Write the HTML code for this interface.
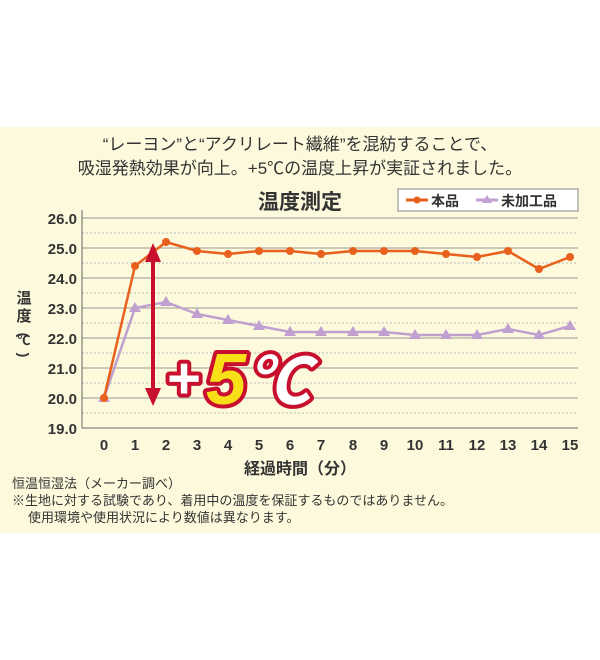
<!DOCTYPE html>
<html><head><meta charset="utf-8"><style>
body{margin:0;width:600px;height:660px;background:#fff;overflow:hidden}
svg{display:block}
text{font-family:"Liberation Sans","Noto Sans CJK JP",sans-serif}
</style></head><body>
<svg width="600" height="660" viewBox="0 0 600 660">
<rect x="0" y="127" width="600" height="406" fill="#fdf9dc"/>
<text x="300" y="150" font-size="17" text-anchor="middle" fill="#333">“レーヨン”と“アクリレート繊維”を混紡することで、</text>
<text x="300" y="174" font-size="17" text-anchor="middle" fill="#333">吸湿発熱効果が向上。+5℃の温度上昇が実証されました。</text>
<text x="300" y="209" font-size="21" font-weight="bold" text-anchor="middle" fill="#333">温度測定</text>
<rect x="398" y="189" width="180" height="22" fill="#fff" stroke="#888"/>
<line x1="406" y1="200" x2="428" y2="200" stroke="#e8601c" stroke-width="3"/><circle cx="417" cy="200" r="3.5" fill="#e8601c"/>
<text x="431" y="206" font-size="14" font-weight="bold" fill="#333">本品</text>
<line x1="476" y1="200" x2="498" y2="200" stroke="#c0a0d0" stroke-width="3"/><polygon points="487,195 492,203 482,203" fill="#c0a0d0"/>
<text x="501" y="206" font-size="14" font-weight="bold" fill="#333">未加工品</text>
<g stroke="#999" stroke-width="1">
<line x1="82" y1="218" x2="578" y2="218"/><line x1="82" y1="248" x2="578" y2="248"/><line x1="82" y1="278" x2="578" y2="278"/><line x1="82" y1="308" x2="578" y2="308"/><line x1="82" y1="338" x2="578" y2="338"/><line x1="82" y1="368" x2="578" y2="368"/><line x1="82" y1="398" x2="578" y2="398"/>
</g>
<g stroke="#bbb" stroke-width="1" stroke-dasharray="2,2">
<line x1="82" y1="233" x2="578" y2="233"/><line x1="82" y1="263" x2="578" y2="263"/><line x1="82" y1="293" x2="578" y2="293"/><line x1="82" y1="323" x2="578" y2="323"/><line x1="82" y1="353" x2="578" y2="353"/><line x1="82" y1="383" x2="578" y2="383"/><line x1="82" y1="413" x2="578" y2="413"/>
</g>
<line x1="82" y1="210" x2="82" y2="428" stroke="#666"/><line x1="82" y1="428" x2="578" y2="428" stroke="#666"/>
<g font-size="15" font-weight="bold" fill="#333" text-anchor="end">
<text x="77" y="224">26.0</text><text x="77" y="254">25.0</text><text x="77" y="284">24.0</text><text x="77" y="314">23.0</text><text x="77" y="344">22.0</text><text x="77" y="374">21.0</text><text x="77" y="404">20.0</text><text x="77" y="434">19.0</text>
</g>
<g font-size="15" font-weight="bold" fill="#333" text-anchor="middle">
<text x="104" y="450">0</text><text x="135" y="450">1</text><text x="166" y="450">2</text><text x="197" y="450">3</text><text x="228" y="450">4</text><text x="259" y="450">5</text><text x="290" y="450">6</text><text x="321" y="450">7</text><text x="353" y="450">8</text><text x="384" y="450">9</text><text x="415" y="450">10</text><text x="446" y="450">11</text><text x="477" y="450">12</text><text x="508" y="450">13</text><text x="539" y="450">14</text><text x="570" y="450">15</text>
</g>
<text x="300" y="474" font-size="16" font-weight="bold" text-anchor="middle" fill="#333">経過時間（分）</text>
<g font-size="15" font-weight="bold" fill="#333" text-anchor="middle">
<text x="24" y="303">温</text><text x="24" y="321">度</text>
<text x="24" y="340" font-size="14" transform="rotate(90 24 335)">(</text>
<text x="24" y="345" font-size="13">℃</text>
<text x="24" y="360" font-size="14" transform="rotate(90 24 355)">)</text>
</g>
<polyline fill="none" stroke="#c0a0d0" stroke-width="2.5" points="104,398 135,308 166,302 197,314 228,320 259,326 290,332 321,332 353,332 384,332 415,335 446,335 477,335 508,329 539,335 570,326"/>
<g fill="#c0a0d0">
<polygon points="104,392 110,402 98,402"/><polygon points="135,302 141,312 129,312"/><polygon points="166,296 172,306 160,306"/><polygon points="197,308 203,318 191,318"/><polygon points="228,314 234,324 222,324"/><polygon points="259,320 265,330 253,330"/><polygon points="290,326 296,336 284,336"/><polygon points="321,326 327,336 315,336"/><polygon points="353,326 359,336 347,336"/><polygon points="384,326 390,336 378,336"/><polygon points="415,329 421,339 409,339"/><polygon points="446,329 452,339 440,339"/><polygon points="477,329 483,339 471,339"/><polygon points="508,323 514,333 502,333"/><polygon points="539,329 545,339 533,339"/><polygon points="570,320 576,330 564,330"/>
</g>
<polyline fill="none" stroke="#e8601c" stroke-width="2.5" points="104,398 135,266 166,242 197,251 228,254 259,251 290,251 321,254 353,251 384,251 415,251 446,254 477,257 508,251 539,269 570,257"/>
<g fill="#e8601c">
<circle cx="104" cy="398" r="4"/><circle cx="135" cy="266" r="4"/><circle cx="166" cy="242" r="4"/><circle cx="197" cy="251" r="4"/><circle cx="228" cy="254" r="4"/><circle cx="259" cy="251" r="4"/><circle cx="290" cy="251" r="4"/><circle cx="321" cy="254" r="4"/><circle cx="353" cy="251" r="4"/><circle cx="384" cy="251" r="4"/><circle cx="415" cy="251" r="4"/><circle cx="446" cy="254" r="4"/><circle cx="477" cy="257" r="4"/><circle cx="508" cy="251" r="4"/><circle cx="539" cy="269" r="4"/><circle cx="570" cy="257" r="4"/>
</g>
<line x1="153" y1="258" x2="153" y2="392" stroke="#c8102e" stroke-width="4"/>
<polygon points="153,243 145,262 161,262" fill="#c8102e"/><polygon points="153,406 145,388 161,388" fill="#c8102e"/>
<g font-weight="bold" font-style="italic" font-family="Liberation Serif,serif" stroke="#c8102e" stroke-width="8" stroke-linejoin="round" paint-order="stroke">
<text x="166" y="398" fill="#fff" font-size="58">+</text>
<text x="206" y="404" fill="#f7e017" font-size="72">5</text>
<text x="246" y="404" fill="#fff" font-size="64">℃</text>
</g>
<text x="12" y="488" font-size="13" fill="#333">恒温恒湿法（メーカー調べ）</text>
<text x="12" y="505" font-size="13" fill="#333">※生地に対する試験であり、着用中の温度を保証するものではありません。</text>
<text x="28" y="522" font-size="13" fill="#333">使用環境や使用状況により数値は異なります。</text>
</svg>
</body></html>
